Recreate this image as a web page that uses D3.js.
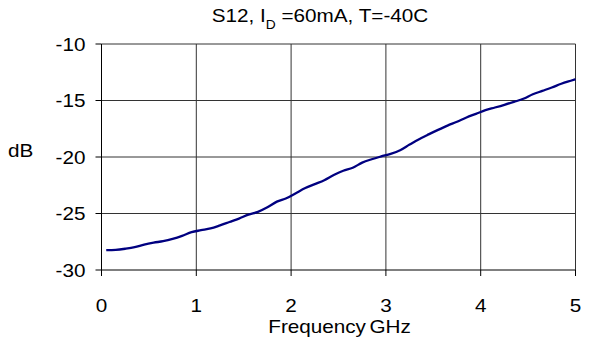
<!DOCTYPE html>
<html><head><meta charset="utf-8">
<script src="https://cdn.jsdelivr.net/npm/d3@7"></script>
<style>body{margin:0;background:#fff}svg{display:block}text{font-family:"Liberation Sans",Arial,Helvetica,sans-serif;fill:#000}</style>
</head><body>
<svg id="c" width="595" height="344"></svg>
<script>
const freq = [0.05,0.15,0.25,0.35,0.45,0.55,0.65,0.75,0.85,0.95,1.05,1.15,1.25,1.35,1.45,1.55,1.65,1.75,1.85,1.95,2.05,2.15,2.25,2.35,2.45,2.55,2.65,2.75,2.85,2.95,3.05,3.15,3.25,3.35,3.45,3.55,3.65,3.75,3.85,3.95,4.05,4.15,4.25,4.35,4.45,4.55,4.65,4.75,4.85,4.95,5.0];
const s12 = [-28.25,-28.22,-28.12,-27.98,-27.75,-27.58,-27.45,-27.25,-26.98,-26.65,-26.48,-26.32,-26.05,-25.75,-25.45,-25.1,-24.85,-24.45,-23.95,-23.65,-23.2,-22.75,-22.4,-22.05,-21.6,-21.22,-20.95,-20.5,-20.2,-19.95,-19.72,-19.4,-18.9,-18.42,-18.0,-17.6,-17.22,-16.88,-16.5,-16.18,-15.85,-15.62,-15.38,-15.12,-14.85,-14.45,-14.15,-13.85,-13.52,-13.25,-13.12];
const xTicks = [0,1,2,3,4,5];
const yTicks = [-10,-15,-20,-25,-30];
const titleMain = "S12, I", titleSub = "D", titleRest = " =60mA, T=-40C";
const xLabel = "Frequency GHz", yLabel = "dB";

const svg = d3.select("#c");
const L = 101.5, R = 575.5, T = 44, B = 270;
const x = d3.scaleLinear().domain([0,5]).range([L,R]);
const y = d3.scaleLinear().domain([-30,-10]).range([B,T]);
const SX = 1.15;

// grid
const g = svg.append("g");
g.selectAll(".gx").data(xTicks.slice(1)).join("line")
  .attr("x1",d=>x(d)).attr("x2",d=>x(d)).attr("y1",T).attr("y2",B)
  .attr("stroke","#333").attr("stroke-width",1);
g.selectAll(".gy").data(yTicks.slice(0,-1)).join("line")
  .attr("x1",L).attr("x2",R).attr("y1",d=>y(d)).attr("y2",d=>y(d))
  .attr("stroke","#333").attr("stroke-width",1);

// axes
svg.append("line").attr("x1",L).attr("x2",L).attr("y1",T).attr("y2",B).attr("stroke","#000");
svg.append("line").attr("x1",L).attr("x2",R).attr("y1",B).attr("y2",B).attr("stroke","#000");
svg.selectAll(".ty").data(yTicks).join("line")
  .attr("x1",L-6).attr("x2",L).attr("y1",d=>y(d)).attr("y2",d=>y(d)).attr("stroke","#000");
svg.selectAll(".tx").data(xTicks).join("line")
  .attr("x1",d=>x(d)).attr("x2",d=>x(d)).attr("y1",B).attr("y2",B+6).attr("stroke","#000");

svg.selectAll(".ly").data(yTicks).join("text")
  .attr("transform",d=>`translate(${L-16},${y(d)+6.5}) scale(${SX},1)`)
  .attr("text-anchor","end").attr("font-size",18).text(d=>d);
svg.selectAll(".lx").data(xTicks).join("text")
  .attr("transform",d=>`translate(${x(d)},${312}) scale(${SX},1)`)
  .attr("text-anchor","middle").attr("font-size",18).text(d=>d);

svg.append("text").attr("transform",`translate(${(L+R)/2+1},333) scale(${SX},1)`)
  .attr("text-anchor","middle").attr("font-size",18).attr("word-spacing",-2).text(xLabel);
svg.append("text").attr("transform",`translate(8,156.5) scale(${SX},1)`)
  .attr("font-size",18).text(yLabel);

const tt = svg.append("text").attr("transform",`translate(320,22) scale(${SX},1)`)
  .attr("text-anchor","middle").attr("font-size",18);
tt.append("tspan").text(titleMain);
tt.append("tspan").attr("font-size",12).attr("dy",7).text(titleSub);
tt.append("tspan").attr("dy",-7).text(titleRest);

// line
const line = d3.line().x((d,i)=>x(freq[i])).y(d=>y(d)).curve(d3.curveMonotoneX);
svg.append("path").datum(s12).attr("d",line).attr("fill","none")
  .attr("stroke","#000080").attr("stroke-width",2.3).attr("stroke-linejoin","round");
</script>
</body></html>
